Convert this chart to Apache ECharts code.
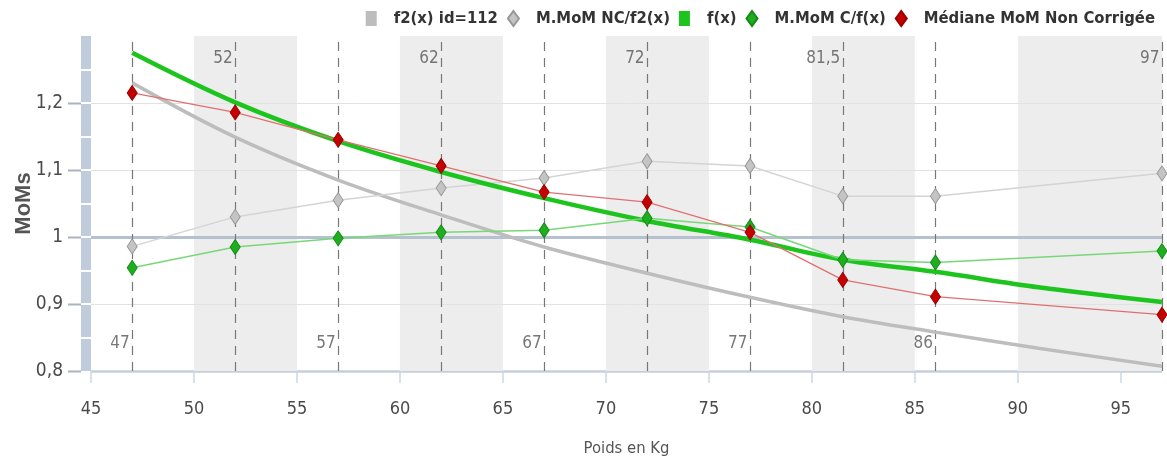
<!DOCTYPE html>
<html>
<head>
<meta charset="utf-8">
<script src="https://cdn.jsdelivr.net/npm/echarts@6/dist/echarts.min.js"></script>
<style>
  html, body { margin: 0; padding: 0; background: #fff; }
  #chart { width: 1167px; height: 465px; }
</style>
</head>
<body>
<div id="chart"></div>
<script>
// Weight classes (kg) where the medians were measured
const PTS_X = [47, 52, 57, 62, 67, 72, 77, 81.5, 86, 97];
const MOM_NC_F2 = [0.986, 1.030, 1.055, 1.073, 1.088, 1.113, 1.106, 1.061, 1.061, 1.095];
const MOM_C_F   = [0.954, 0.985, 0.998, 1.007, 1.010, 1.028, 1.015, 0.966, 0.962, 0.979];
const MEDIANE_NC = [1.215, 1.186, 1.145, 1.106, 1.067, 1.052, 1.007, 0.936, 0.911, 0.884];

// Regression curves f(x) and f2(x)
const CURVE_X = [47, 52, 57, 62, 67, 72, 77, 81.5, 86, 91, 97];
const F_CURVE  = [1.275, 1.201, 1.143, 1.097, 1.058, 1.024, 0.996, 0.966, 0.948, 0.925, 0.903];
const F2_CURVE = [1.230, 1.149, 1.085, 1.033, 0.985, 0.946, 0.910, 0.881, 0.858, 0.834, 0.807];

// Vertical reference lines, labelled at the top or at the bottom
const PLOT_LINES_TOP = [52, 62, 72, 81.5, 97];
const PLOT_LINES_BOTTOM = [47, 57, 67, 77, 86];

// Axes
const X_MIN = 45, X_MAX = 97;
const Y_MIN = 0.8, Y_MAX = 1.3;
const X_TICKS = [45, 50, 55, 60, 65, 70, 75, 80, 85, 90, 95];
const Y_TICKS = [0.8, 0.9, 1, 1.1, 1.2];
const Y_NOTCHES = [0.85, 0.9, 0.95, 1, 1.05, 1.1, 1.15, 1.2, 1.25];
const GRID_LINES = [0.9, 1.1, 1.2];
const REF_LINE = 1;
const BANDS = [[50, 55], [60, 65], [70, 75], [80, 85], [90, 97]];

const NARROW = "'Liberation Sans Narrow', 'DejaVu Sans Condensed', 'Liberation Sans', sans-serif";
const fmt = v => String(v).replace('.', ',');
const pairs = (xs, ys) => xs.map((x, i) => [x, ys[i]]);

const chart = echarts.init(document.getElementById('chart'), null, { renderer: 'canvas' });

const diamond = (fill, border) => ({
  symbol: 'diamond',
  symbolSize: [10, 15],
  showSymbol: true,
  itemStyle: { color: fill, borderColor: border, borderWidth: 1 }
});

// a y axis sharing the data scale, used for decoration on the left edge
const sideAxis = extra => Object.assign({
  type: 'value', min: Y_MIN, max: Y_MAX, interval: 0.1, position: 'left',
  axisLine: { show: false, onZero: false },
  axisTick: { show: false }, axisLabel: { show: false }, splitLine: { show: false }
}, extra);

chart.setOption({
  animation: false,
  backgroundColor: '#fff',
  textStyle: { fontFamily: NARROW },
  grid: { left: 91, right: 5, top: 36, bottom: 94, containLabel: false, outerBoundsMode: 'none' },
  legend: {
    right: 7, top: 5,
    itemWidth: 11, itemHeight: 15, itemGap: 9,
    textStyle: { fontFamily: NARROW, fontWeight: 'bold', fontSize: 16.5, color: '#333', padding: [0, 0, 0, 12] },
    data: [
      { name: 'f2(x) id=112', icon: 'rect' },
      { name: 'M.MoM NC/f2(x)', icon: 'diamond' },
      { name: 'f(x)', icon: 'rect' },
      { name: 'M.MoM C/f(x)', icon: 'diamond' },
      { name: 'Médiane MoM Non Corrigée', icon: 'diamond' }
    ]
  },
  xAxis: {
    type: 'value', min: X_MIN, max: X_MAX, interval: 5,
    axisLine: { show: true, onZero: false, lineStyle: { color: '#c4cfdd', width: 2.5, cap: 'butt' } },
    axisTick: { show: true, customValues: X_TICKS, length: 12, lineStyle: { color: '#ccd6e2', width: 1.5 } },
    axisLabel: { customValues: X_TICKS, margin: 29, fontFamily: NARROW, fontSize: 18, color: '#4a4a4a' },
    splitLine: { show: false },
    name: 'Poids en Kg', nameLocation: 'middle', nameGap: 69, nameMoveOverlap: false,
    nameTextStyle: { fontFamily: NARROW, fontSize: 16.5, color: '#555' }
  },
  yAxis: [
    // labelled axis
    sideAxis({
      offset: 10,
      axisLabel: { show: true, customValues: Y_TICKS, margin: 18, formatter: fmt, fontFamily: NARROW, fontSize: 19, color: '#4a4a4a' },
      name: 'MoMs', nameLocation: 'middle', nameGap: 46, nameRotate: 90, nameMoveOverlap: false,
      nameTextStyle: { fontFamily: "'Liberation Sans', sans-serif", fontWeight: 'bold', fontSize: 22, color: '#555' }
    }),
    // shaded bar along the left edge
    sideAxis({
      offset: 5,
      axisLine: { show: true, onZero: false, lineStyle: { color: '#c0cbdc', width: 10, cap: 'butt' } }
    }),
    // white notches across the bar
    sideAxis({
      offset: 10,
      axisTick: { show: true, inside: true, length: 10, customValues: Y_NOTCHES, lineStyle: { color: '#ffffff', width: 2 } }
    })
  ],
  series: [
    {
      // labels of the vertical reference lines, plus bands and grid lines
      type: 'scatter', name: 'repères', silent: true, symbolSize: 1,
      itemStyle: { color: 'rgba(0,0,0,0)' },
      data: [
        ...PLOT_LINES_TOP.map(x => ({ value: [x, Y_MAX], label: { offset: [0, 23] } })),
        ...PLOT_LINES_BOTTOM.map(x => ({ value: [x, Y_MIN], label: { offset: [0, -27] } }))
      ],
      label: {
        show: true, position: 'left', distance: 2,
        formatter: p => fmt(p.value[0]),
        fontFamily: NARROW, fontSize: 17, color: '#555'
      },
      markArea: {
        silent: true, z: 1,
        itemStyle: { color: '#ededed' },
        data: BANDS.map(b => [{ xAxis: b[0] }, { xAxis: b[1] }])
      },
      markLine: {
        silent: true, z: 1.5, symbol: 'none', label: { show: false },
        data: [
          ...GRID_LINES.map(v => ({ yAxis: v, lineStyle: { color: '#e2e2e2', width: 1, type: 'solid' } })),
          { yAxis: REF_LINE, lineStyle: { color: '#b6c1d0', width: 3, type: 'solid' } },
          ...PLOT_LINES_BOTTOM.concat(PLOT_LINES_TOP).map(x => ({
            xAxis: x, lineStyle: { color: '#777777', width: 1.2, type: [9, 7] }
          }))
        ]
      }
    },
    {
      type: 'line', name: 'f2(x) id=112', color: '#bdbdbd',
      data: pairs(CURVE_X, F2_CURVE), smooth: 0.35, showSymbol: false,
      lineStyle: { color: '#bdbdbd', width: 3.5 }
    },
    Object.assign({
      type: 'line', name: 'M.MoM NC/f2(x)', color: '#c4c4c4',
      data: pairs(PTS_X, MOM_NC_F2),
      lineStyle: { color: '#d4d4d4', width: 1.5 }
    }, diamond('#c4c4c4', '#979797')),
    {
      type: 'line', name: 'f(x)', color: '#1ec41e',
      data: pairs(CURVE_X, F_CURVE), smooth: 0.35, showSymbol: false,
      lineStyle: { color: '#1ec41e', width: 4.5 }
    },
    Object.assign({
      type: 'line', name: 'M.MoM C/f(x)', color: '#1fae1f',
      data: pairs(PTS_X, MOM_C_F),
      lineStyle: { color: '#78d878', width: 1.5 }
    }, diamond('#1fae1f', '#168a16')),
    Object.assign({
      type: 'line', name: 'Médiane MoM Non Corrigée', color: '#c40000',
      data: pairs(PTS_X, MEDIANE_NC),
      lineStyle: { color: '#e07070', width: 1.3 }
    }, diamond('#c40000', '#9a0000'))
  ]
});

// Grey y ticks between the labels and the bar, placed through the y scale
const barLeft = chart.convertToPixel({ xAxisIndex: 0 }, X_MIN) - 10;
chart.setOption({
  graphic: Y_TICKS.map(v => {
    const y = Math.round(chart.convertToPixel({ yAxisIndex: 0 }, v)) + 0.5;
    return {
      type: 'line', silent: true, z: 10,
      shape: { x1: barLeft - 13, y1: y, x2: barLeft, y2: y },
      style: { stroke: '#a9b3c1', lineWidth: 2 }
    };
  })
});
</script>
</body>
</html>
